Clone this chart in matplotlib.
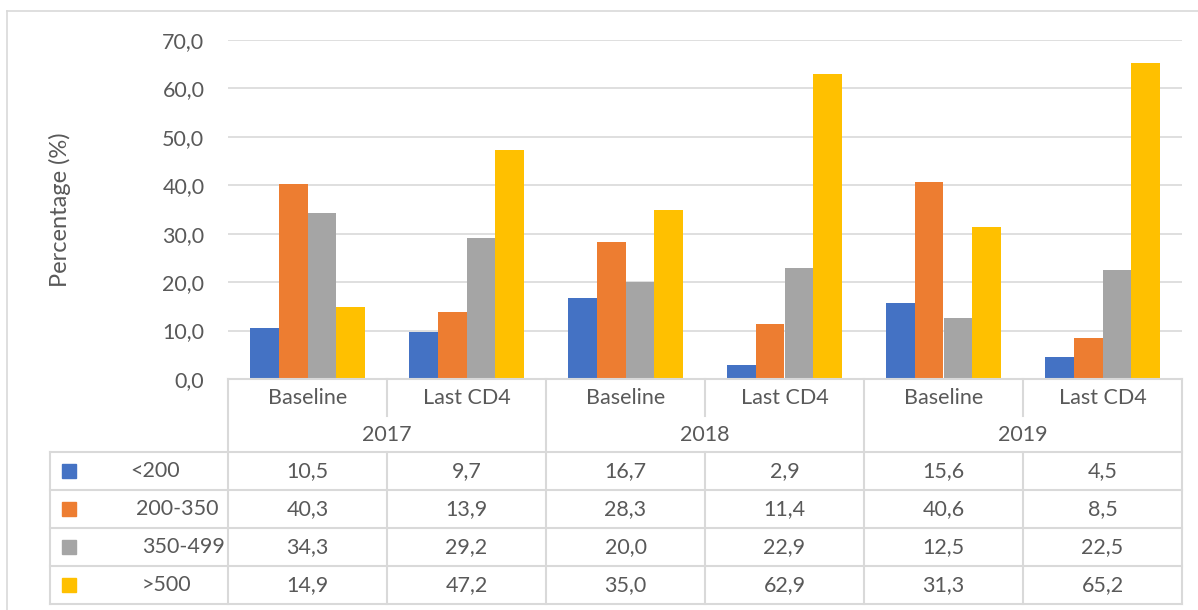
import matplotlib.pyplot as plt
from matplotlib.lines import Line2D
from matplotlib.patches import Rectangle
from matplotlib.ticker import FuncFormatter
import numpy as np

plt.rcParams['font.family'] = ['Lato', 'DejaVu Sans']

# data
years = ['2017', '2018', '2019']
points = ['Baseline', 'Last CD4']
series = ['<200', '200-350', '350-499', '>500']
lt200 = [10.5, 9.7, 16.7, 2.9, 15.6, 4.5]
s200_350 = [40.3, 13.9, 28.3, 11.4, 40.6, 8.5]
s350_499 = [34.3, 29.2, 20.0, 22.9, 12.5, 22.5]
gt500 = [14.9, 47.2, 35.0, 62.9, 31.3, 65.2]
values = [lt200, s200_350, s350_499, gt500]
colors = ['#4472C4', '#ED7D31', '#A5A5A5', '#FFC000']

W, H = 1198, 610
txt = '#595959'
grid = '#D9D9D9'
fs = 15.5

def fx(x):
    return x / W

def fy(y):
    return 1 - y / H

fig = plt.figure(figsize=(W / 100, H / 100), dpi=100)

# chart area border
fig.add_artist(Line2D([fx(7), 1], [fy(11), fy(11)], color=grid, lw=1.2))
fig.add_artist(Line2D([fx(7), fx(7)], [fy(11), 0], color=grid, lw=1.2))

left, right, top, bottom = 228, 1182, 40, 379
ax = fig.add_axes([fx(left), fy(bottom), fx(right - left), (bottom - top) / H])

n = len(lt200)
x = np.arange(n)
bw = 0.182
for k, (vals, c) in enumerate(zip(values, colors)):
    ax.bar(x + (k - 1.5) * bw, vals, bw, color=c, zorder=3)

ax.set_xlim(-0.5, n - 0.5)
ax.set_ylim(0, 70)
ax.set_yticks(np.arange(0, 71, 10))
ax.yaxis.set_major_formatter(FuncFormatter(lambda v, p: f'{v:.1f}'.replace('.', ',')))
ax.grid(axis='y', color=grid, lw=1.2, zorder=0)
ax.set_xticks([])
for s in ax.spines.values():
    s.set_visible(False)
ax.tick_params(axis='y', length=0, pad=17, labelsize=fs, labelcolor=txt)
fig.text(fx(60), fy(210), 'Percentage (%)', rotation=90, ha='center', va='center',
         fontsize=17, color=txt)

# data table
colw = (right - left) / n
row_y = [379, 418, 452, 490, 528, 566, 604]
tleft = 50

def hline(x0, x1, y):
    fig.add_artist(Line2D([fx(x0), fx(x1)], [fy(y), fy(y)], color=grid, lw=1.5))

def vline(x0, y0, y1):
    fig.add_artist(Line2D([fx(x0), fx(x0)], [fy(y0), fy(y1)], color=grid, lw=1.5))

hline(left, right, row_y[0])
for y in row_y[2:]:
    hline(tleft, right, y)
vline(tleft, row_y[2], row_y[-1])
for j in range(n + 1):
    xx = left + j * colw
    if j % 2 == 1:
        vline(xx, row_y[0], row_y[1] - 2)
        vline(xx, row_y[2], row_y[-1])
    else:
        vline(xx, row_y[0], row_y[-1])

for j in range(n):
    cx = left + (j + 0.5) * colw
    fig.text(fx(cx), fy((row_y[0] + row_y[1]) / 2), points[j % 2], ha='center',
             va='center', fontsize=fs, color=txt)
for g, yr in enumerate(years):
    cx = left + (2 * g + 1) * colw
    fig.text(fx(cx), fy((row_y[1] + row_y[2]) / 2), yr, ha='center', va='center',
             fontsize=fs, color=txt)

label_x = [130, 136, 142, 142]
for k, (name, vals, c) in enumerate(zip(series, values, colors)):
    cy = (row_y[k + 2] + row_y[k + 3]) / 2
    fig.add_artist(Rectangle((fx(62), fy(cy + 7)), fx(14), 14 / H, color=c))
    fig.text(fx(label_x[k]), fy(cy), name, ha='left', va='center', fontsize=fs, color=txt)
    for j, v in enumerate(vals):
        cx = left + (j + 0.5) * colw
        fig.text(fx(cx), fy(cy), f'{v:.1f}'.replace('.', ','), ha='center',
                 va='center', fontsize=fs, color=txt)

fig.savefig('out.png', dpi=100)
